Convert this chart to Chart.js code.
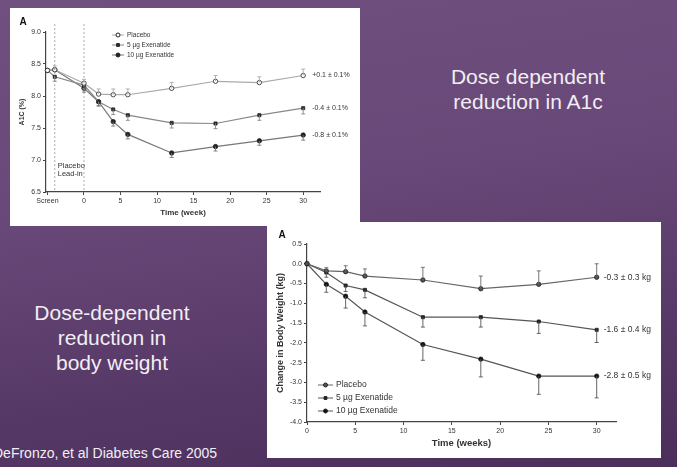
<!DOCTYPE html>
<html>
<head>
<meta charset="utf-8">
<script src="https://cdn.jsdelivr.net/npm/chart.js@4.4.1/dist/chart.umd.min.js"></script>
<style>
  html, body { margin: 0; padding: 0; }
  body {
    width: 677px; height: 467px; overflow: hidden; position: relative;
    background: linear-gradient(172deg, #70507e 0%, #684878 40%, #563866 75%, #4b2e5a 100%);
    font-family: "Liberation Sans", Arial, sans-serif; color: #f1eef3;
  }
  .box { position: absolute; background: #fff; }
  #boxA { left: 10px; top: 8px; width: 350px; height: 218px; }
  #boxB { left: 267px; top: 222px; width: 394px; height: 236px; }
  .box canvas { filter: blur(0.55px); }
  .note { position: absolute; text-align: center; font-size: 21px; line-height: 25px; width: 240px; }
  #cite { position: absolute; left: -7px; top: 445px; font-size: 14px; line-height: 16px; white-space: nowrap; }
</style>
</head>
<body>
<div class="note" style="left:408px;top:64px">Dose dependent<br>reduction in A1c</div>
<div class="note" style="left:-8px;top:300px">Dose-dependent<br>reduction in<br>body weight</div>
<div id="cite">DeFronzo, et al Diabetes Care 2005</div>
<div class="box" id="boxB"><canvas id="chartB" width="394" height="236"></canvas></div>
<div class="box" id="boxA"><canvas id="chartA" width="350" height="218"></canvas></div>

<script>
// A1c panel (weeks, -5 = screening visit)
const a1cWeeks = [-5, -4, 0, 2, 4, 6, 12, 18, 24, 30];
const a1cPlacebo = [8.40, 8.41, 8.20, 8.03, 8.02, 8.02, 8.12, 8.23, 8.21, 8.32];
const a1c5ug = [8.40, 8.30, 8.17, 7.91, 7.79, 7.70, 7.58, 7.57, 7.70, 7.81];
const a1c10ug = [8.40, 8.41, 8.12, 7.91, 7.60, 7.40, 7.11, 7.21, 7.30, 7.39];
const a1cErrPlacebo = [0, 0.06, 0.06, 0.08, 0.09, 0.09, 0.09, 0.09, 0.09, 0.1];
const a1cErr5ug = [0, 0.07, 0.06, 0.07, 0.08, 0.08, 0.08, 0.08, 0.08, 0.09];
const a1cErr10ug = [0, 0, 0.06, 0.06, 0.07, 0.07, 0.07, 0.07, 0.07, 0.08];
const a1cTicksX = [-5, 0, 5, 10, 15, 20, 25, 30];
const a1cTicksY = [6.5, 7.0, 7.5, 8.0, 8.5, 9.0];
const a1cNotes = ['+0.1 \u00b1 0.1%', '-0.4 \u00b1 0.1%', '-0.8 \u00b1 0.1%'];

// body weight panel
const wtWeeks = [0, 2, 4, 6, 12, 18, 24, 30];
const wtPlacebo = [0, -0.18, -0.20, -0.31, -0.41, -0.63, -0.52, -0.34];
const wt5ug = [0, -0.22, -0.55, -0.66, -1.35, -1.35, -1.46, -1.67];
const wt10ug = [0, -0.52, -0.82, -1.22, -2.04, -2.41, -2.84, -2.84];
const wtErrPlacebo = [0, 0.08, 0.15, 0.18, 0.32, 0.32, 0.34, 0.34];
const wtErr5ug = [0, 0.12, 0.15, 0.2, 0.25, 0.25, 0.3, 0.32];
const wtErr10ug = [0, 0.2, 0.3, 0.35, 0.4, 0.45, 0.46, 0.55];
const wtTicksX = [0, 5, 10, 15, 20, 25, 30];
const wtTicksY = [-4, -3.5, -3, -2.5, -2, -1.5, -1, -0.5, 0, 0.5];
const wtNotes = ['-0.3 \u00b1 0.3 kg', '-1.6 \u00b1 0.4 kg', '-2.8 \u00b1 0.5 kg'];

const seriesNames = ['Placebo', '5 \u00b5g Exenatide', '10 \u00b5g Exenatide'];
const FONT = '"Liberation Sans", Arial, sans-serif';

function pts(xs, ys) {
  return xs.map((x, i) => ({ x: x, y: ys[i] }));
}

// error bars, end labels, legend and panel extras
const decor = {
  id: 'decor',
  afterDatasetsDraw(chart, args, opts) {
    const ctx = chart.ctx;
    const xs = chart.scales.x, ys = chart.scales.y;
    const area = chart.chartArea;
    ctx.save();

    (opts.vlines || []).forEach((v) => {
      const px = xs.getPixelForValue(v);
      ctx.strokeStyle = '#999';
      ctx.lineWidth = 0.8;
      ctx.setLineDash([2, 2]);
      ctx.beginPath();
      ctx.moveTo(px, area.top - 8);
      ctx.lineTo(px, area.bottom);
      ctx.stroke();
    });
    ctx.setLineDash([]);

    chart.data.datasets.forEach((ds) => {
      if (!ds.err) return;
      ds.data.forEach((p, j) => {
        const e = ds.err[j];
        if (!e) return;
        const px = xs.getPixelForValue(p.x);
        const py0 = ys.getPixelForValue(p.y);
        const py1 = ys.getPixelForValue(p.y + ds.errDir * e);
        ctx.strokeStyle = ds.borderColor;
        ctx.lineWidth = 0.9;
        ctx.beginPath();
        ctx.moveTo(px, py0);
        ctx.lineTo(px, py1);
        ctx.moveTo(px - 2, py1);
        ctx.lineTo(px + 2, py1);
        ctx.stroke();
      });
    });

    ctx.fillStyle = '#333';
    ctx.font = opts.noteSize + 'px ' + FONT;
    ctx.textBaseline = 'middle';
    ctx.textAlign = 'left';
    (opts.notes || []).forEach((t, i) => {
      const d = chart.data.datasets[i].data;
      const last = d[d.length - 1];
      ctx.fillText(t, xs.getPixelForValue(last.x) + opts.noteGap, ys.getPixelForValue(last.y));
    });

    const lg = opts.legend;
    chart.data.datasets.forEach((ds, i) => {
      const y = lg.y + i * lg.gap;
      ctx.strokeStyle = ds.borderColor;
      ctx.lineWidth = 1;
      ctx.beginPath();
      ctx.moveTo(lg.x, y);
      ctx.lineTo(lg.x + lg.len, y);
      ctx.stroke();
      ctx.fillStyle = ds.pointBackgroundColor;
      ctx.strokeStyle = ds.pointBorderColor;
      Chart.helpers.drawPoint(ctx, { pointStyle: ds.pointStyle, radius: 2, borderWidth: 0.8 }, lg.x + lg.len / 2, y);
      ctx.fillStyle = '#333';
      ctx.font = lg.size + 'px ' + FONT;
      ctx.fillText(ds.label, lg.x + lg.len + 3, y);
    });

    if (opts.leadIn) {
      const px = xs.getPixelForValue(opts.leadIn.x) + 3;
      const py = ys.getPixelForValue(opts.leadIn.y);
      ctx.font = '7.5px ' + FONT;
      ctx.fillText('Placebo', px, py);
      ctx.fillText('Lead-in', px, py + 8);
    }

    ctx.fillStyle = '#111';
    ctx.font = 'bold 10px ' + FONT;
    ctx.textAlign = 'center';
    ctx.fillText('A', opts.panel.x, opts.panel.y);
    ctx.restore();
  }
};

function makeScales(cfg) {
  const axisColor = '#444';
  return {
    x: {
      type: 'linear', min: cfg.xMin, max: cfg.xMax,
      afterFit: (s) => { s.height = cfg.xHeight; },
      afterBuildTicks: (s) => { s.ticks = cfg.xTicks.map((v) => ({ value: v })); },
      ticks: {
        font: { size: cfg.tickSize, family: FONT }, color: '#333', padding: 2, maxRotation: 0,
        callback: (v) => (v === -5 ? 'Screen' : v)
      },
      grid: { drawOnChartArea: false, drawTicks: true, tickLength: 3, color: axisColor },
      border: { color: axisColor, width: 1.2 },
      title: {
        display: true, text: cfg.xTitle, color: '#333',
        font: { size: cfg.titleSize, weight: 'bold', family: FONT }, padding: { top: 2, bottom: cfg.xTitlePad }
      }
    },
    y: {
      min: cfg.yMin, max: cfg.yMax,
      afterFit: (s) => { s.width = cfg.yWidth; },
      afterBuildTicks: (s) => { s.ticks = cfg.yTicks.map((v) => ({ value: v })); },
      ticks: {
        font: { size: cfg.tickSize, family: FONT }, color: '#333', padding: 2,
        callback: (v) => v.toFixed(1)
      },
      grid: { drawOnChartArea: false, drawTicks: true, tickLength: 3, color: axisColor },
      border: { color: axisColor, width: 1.2 },
      title: {
        display: true, text: cfg.yTitle, color: '#333',
        font: { size: cfg.yTitleSize, weight: 'bold', family: FONT }, padding: { top: cfg.yTitlePad, bottom: 2 }
      }
    }
  };
}

function series(label, xs, ys, err, dir, color, style, fill) {
  return {
    label: label,
    data: pts(xs, ys),
    err: err,
    errDir: dir,
    borderColor: color,
    borderWidth: 1.2,
    pointStyle: style,
    pointRadius: 2.2,
    pointBackgroundColor: fill,
    pointBorderColor: '#222',
    pointBorderWidth: 0.8,
    tension: 0,
    clip: false
  };
}

new Chart(document.getElementById('chartA'), {
  type: 'line',
  data: {
    datasets: [
      series(seriesNames[0], a1cWeeks, a1cPlacebo, a1cErrPlacebo, 1, '#aaa', 'circle', '#fff'),
      series(seriesNames[1], a1cWeeks, a1c5ug, a1cErr5ug, -1, '#888', 'rect', '#333'),
      series(seriesNames[2], a1cWeeks, a1c10ug, a1cErr10ug, -1, '#777', 'circle', '#222')
    ]
  },
  options: {
    responsive: false, animation: false,
    layout: { padding: { top: 24, right: 40, left: 0, bottom: 0 } },
    plugins: {
      legend: { display: false }, tooltip: { enabled: false },
      decor: {
        vlines: [-4, 0], notes: a1cNotes, noteGap: 9, noteSize: 7,
        legend: { x: 102, y: 27, gap: 10, len: 12, size: 6.5 },
        leadIn: { x: -4, y: 6.91 },
        panel: { x: 13, y: 14 }
      }
    },
    scales: makeScales({
      xMin: -5.2, xMax: 32.3, xTicks: a1cTicksX, xHeight: 34, xTitle: 'Time (week)', xTitlePad: 8,
      yMin: 6.5, yMax: 9.0, yTicks: a1cTicksY, yWidth: 36,
      yTitle: 'A1C (%)', yTitlePad: 7.5, tickSize: 7, titleSize: 8, yTitleSize: 7
    })
  },
  plugins: [decor]
});

new Chart(document.getElementById('chartB'), {
  type: 'line',
  data: {
    datasets: [
      series(seriesNames[0], wtWeeks, wtPlacebo, wtErrPlacebo, 1, '#666', 'circle', '#555'),
      series(seriesNames[1], wtWeeks, wt5ug, wtErr5ug, -1, '#555', 'rect', '#222'),
      series(seriesNames[2], wtWeeks, wt10ug, wtErr10ug, -1, '#555', 'circle', '#111')
    ]
  },
  options: {
    responsive: false, animation: false,
    layout: { padding: { top: 22, right: 45, left: 0, bottom: 0 } },
    plugins: {
      legend: { display: false }, tooltip: { enabled: false },
      decor: {
        notes: wtNotes, noteGap: 7, noteSize: 8.5,
        legend: { x: 51, y: 163, gap: 13, len: 15, size: 8.5 },
        panel: { x: 15, y: 13 }
      }
    },
    scales: makeScales({
      xMin: 0, xMax: 32, xTicks: wtTicksX, xHeight: 36, xTitle: 'Time (weeks)', xTitlePad: 9,
      yMin: -4.0, yMax: 0.5, yTicks: wtTicksY, yWidth: 40,
      yTitle: 'Change in Body Weight (kg)', yTitlePad: 8.5, tickSize: 7, titleSize: 9.5, yTitleSize: 9
    })
  },
  plugins: [decor]
});
</script>
</body>
</html>
